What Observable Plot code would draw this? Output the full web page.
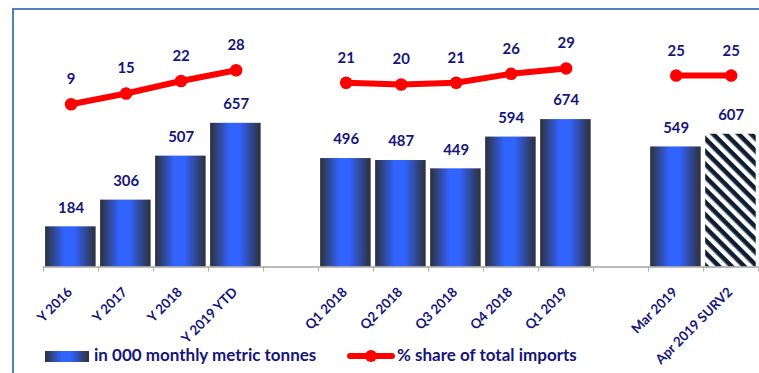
<!DOCTYPE html>
<html>
<head>
<meta charset="utf-8">
<script src="https://cdn.jsdelivr.net/npm/d3@7"></script>
<script src="https://cdn.jsdelivr.net/npm/@observablehq/plot@0.6"></script>
<style>
  html, body { margin: 0; padding: 0; background: #fff; }
  #wrap { position: relative; width: 759px; height: 373px; overflow: hidden; font-family: Lato, "Open Sans", sans-serif; }
  #frame { position: absolute; left: 12px; top: 8px; right: -5px; bottom: -5px; border-left: 2px solid #4f81bd; border-top: 2px solid #4f81bd; }
  .layer { position: absolute; left: 0; top: 0; }
  .legend-text { position: absolute; top: 344px; height: 22px; line-height: 22px; font-size: 17px; font-weight: 700; color: #15157a; white-space: nowrap; }
</style>
</head>
<body>
<svg width="0" height="0" style="position:absolute">
  <defs>
    <linearGradient id="barGrad" x1="0" x2="1" y1="0" y2="0">
      <stop offset="0" stop-color="#2e3039"/>
      <stop offset="0.38" stop-color="#3163ff"/>
      <stop offset="0.58" stop-color="#3163ff"/>
      <stop offset="1" stop-color="#2e3039"/>
    </linearGradient>
    <pattern id="hatch" patternUnits="userSpaceOnUse" width="9" height="9" patternTransform="rotate(45)">
      <rect width="9" height="9" fill="#ffffff"/>
      <rect width="9" height="4.6" fill="#0e1f33"/>
    </pattern>
  </defs>
</svg>
<div id="wrap">
  <div id="frame"></div>
  <div id="bars" class="layer"></div>
  <div id="lines" class="layer"></div>
  <div style="position:absolute;left:45px;top:351px;width:44px;height:11px;background:linear-gradient(to right,#2e3039 0%,#3163ff 38%,#3163ff 58%,#2e3039 100%);"></div>
  <div class="legend-text" style="left:94px;">in 000 monthly metric tonnes</div>
  <div style="position:absolute;left:347px;top:353px;width:48px;height:6px;border-radius:3px;background:#ff0000;"></div>
  <div style="position:absolute;left:365px;top:350px;width:12px;height:12px;border-radius:6px;background:#ff0000;"></div>
  <div class="legend-text" style="left:397px;">% share of total imports</div>
</div>
<script>
const categories = ["Y 2016", "Y 2017", "Y 2018", "Y 2019 YTD", "", "Q1 2018", "Q2 2018", "Q3 2018", "Q4 2018", "Q1 2019", "", "Mar 2019", "Apr 2019 SURV2"];
const volumes = [184, 306, 507, 657, null, 496, 487, 449, 594, 674, null, 549, 607];
const shares = [9, 15, 22, 28, null, 21, 20, 21, 26, 29, null, 25, 25];
const surveyCategory = "Apr 2019 SURV2";

const navy = "#15157a";
const red = "#ff0000";
const rows = categories.map((c, i) => ({i, category: c, volume: volumes[i], share: shares[i]}));
const barRows = rows.filter(d => d.volume != null);
const shareRows = rows.filter(d => d.share != null);
const n = categories.length;

const common = {
  width: 763, height: 373,
  marginLeft: 43.3, marginRight: 0.8
};

const barsPlot = Plot.plot({
  ...common,
  style: {background: "transparent", color: "#a6a6a6", fontFamily: "Lato, 'Open Sans', sans-serif"},
  marginTop: 92, marginBottom: 105,
  x: {domain: [0, n], ticks: d3.range(n + 1), tickSize: 5, tickFormat: () => "", line: false},
  y: {domain: [0, 800], axis: null},
  marks: [
    Plot.rectY(barRows.filter(d => d.category !== surveyCategory), {x1: d => d.i, x2: d => d.i + 1, y: "volume", insetLeft: 2, insetRight: 2.5, fill: "url(#barGrad)"}),
    Plot.rectY(barRows.filter(d => d.category === surveyCategory), {x1: d => d.i, x2: d => d.i + 1, y: "volume", insetLeft: 2, insetRight: 2.5, fill: "url(#hatch)"}),
    Plot.ruleY([0], {stroke: "#a6a6a6", strokeWidth: 1.5}),
    Plot.text(barRows, {x: d => d.i + 0.5, y: "volume", text: d => String(d.volume), dy: -19, fill: navy, fontSize: 15, fontWeight: "bold"}),
    Plot.text(rows.filter(d => d.category), {x: d => d.i + 0.5, frameAnchor: "bottom", text: "category", rotate: -45, textAnchor: "end", dy: 26, dx: 2, fill: navy, fontSize: 13.5, fontWeight: "bold"})
  ]
});
document.getElementById("bars").appendChild(barsPlot);

const linesPlot = Plot.plot({
  ...common,
  style: {background: "transparent", fontFamily: "Lato, 'Open Sans', sans-serif"},
  marginTop: 66.5, marginBottom: 252.5,
  x: {domain: [0, n], axis: null},
  y: {domain: [0, 30], axis: null},
  marks: [
    Plot.line(rows, {x: d => d.i + 0.5, y: "share", stroke: red, strokeWidth: 6}),
    Plot.dot(shareRows, {x: d => d.i + 0.5, y: "share", r: 6.3, fill: red}),
    Plot.text(shareRows, {x: d => d.i + 0.5, y: "share", text: d => String(d.share), dy: -25, fill: navy, fontSize: 15, fontWeight: "bold"})
  ]
});
document.getElementById("lines").appendChild(linesPlot);
</script>
</body>
</html>
